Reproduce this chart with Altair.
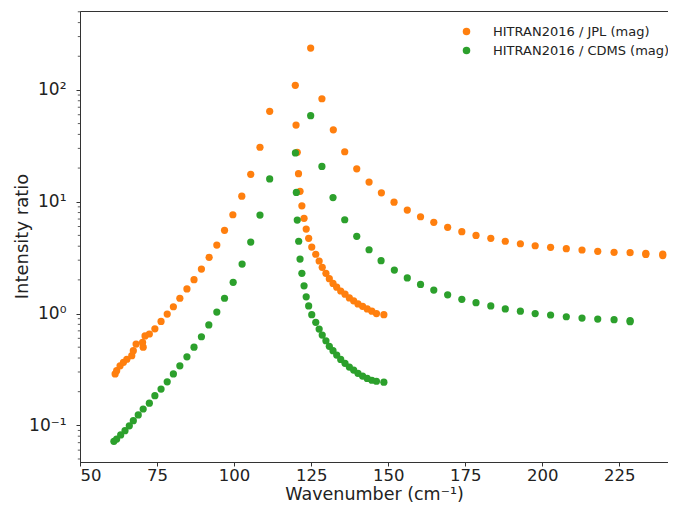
import math
import altair as alt
import pandas as pd

# ---- data ----
jpl_x = [61.4, 61.9, 63.0, 64.1, 65.2, 66.8, 67.3, 68.2, 70.5, 70.3, 71.1, 72.5, 74.3, 76.3,
         78.3, 80.3, 82.4, 84.7, 87.0, 89.4, 91.9, 94.4, 96.9, 99.6, 102.5, 105.4, 108.4, 111.55,
         119.86, 124.85,
         120.1, 120.5, 120.9, 121.4, 122.0, 122.7, 123.4, 124.2, 125.2, 126.5, 127.6, 128.6, 129.8,
         130.9, 132.1, 133.3, 134.6, 136.0, 137.4, 138.8, 140.2, 141.7, 143.2, 144.7, 146.2, 148.6,
         128.5, 132.2, 135.9, 139.8, 143.8, 147.8, 151.9, 156.2, 160.5, 164.8, 169.3, 173.9, 178.5,
         183.3, 188.0, 192.9, 197.7, 202.7, 207.8, 212.9, 218.0, 223.3, 228.5, 233.6, 239.1, 233.6, 239.1]
jpl_y = [0.288, 0.308, 0.341, 0.366, 0.39, 0.42, 0.465, 0.533, 0.50, 0.552, 0.63, 0.656, 0.73, 0.85,
         0.99, 1.15, 1.37, 1.66, 2.01, 2.50, 3.18, 4.10, 5.55, 7.65, 11.2, 17.6, 30.7, 64.4,
         110, 237,
         48.5, 27.7, 17.8, 12.4, 9.2, 7.1, 5.7, 4.71, 3.93, 3.39, 2.95, 2.59, 2.29,
         2.05, 1.86, 1.72, 1.59, 1.49, 1.38, 1.30, 1.22, 1.16, 1.10, 1.05, 1.00, 0.976,
         83.4, 44.0, 28.0, 19.7, 15.0, 12.0, 9.9, 8.43, 7.34, 6.54, 5.90, 5.40, 5.00,
         4.71, 4.43, 4.21, 4.04, 3.91, 3.80, 3.70, 3.60, 3.53, 3.50, 3.45, 3.40, 3.38, 3.30]

cdms_x = [61.0, 61.9, 63.2, 64.6, 66.0, 67.3, 68.9, 70.5, 72.5, 74.3, 76.3, 78.3, 80.3, 82.4,
          84.7, 87.0, 89.4, 91.8, 94.4, 96.9, 99.7, 102.6, 105.4, 108.4, 111.55,
          119.9, 124.85,
          120.2, 120.5, 120.96, 121.4, 122.0, 122.7, 123.4, 124.2, 125.2, 126.5, 127.6, 128.6, 129.8,
          130.9, 132.1, 133.3, 134.6, 136.0, 137.4, 138.8, 140.2, 141.7, 143.2, 144.7, 146.2, 148.6,
          128.5, 132.1, 135.9, 139.8, 143.8, 147.7, 152.0, 156.2, 160.5, 164.8, 169.3, 173.9, 178.5,
          183.3, 188.0, 192.9, 197.7, 202.7, 207.8, 212.9, 218.0, 223.3, 228.5, 228.5]
cdms_y = [0.072, 0.0754, 0.082, 0.0895, 0.099, 0.11, 0.124, 0.14, 0.158, 0.184, 0.211, 0.245, 0.288, 0.341,
          0.41, 0.50, 0.62, 0.79, 1.03, 1.37, 1.90, 2.77, 4.36, 7.6, 16.0,
          27.3, 58.8,
          12.1, 6.86, 4.43, 3.07, 2.29, 1.77, 1.41, 1.17, 0.976, 0.834, 0.726, 0.642, 0.571,
          0.509, 0.465, 0.425, 0.389, 0.359, 0.332, 0.312, 0.292, 0.276, 0.263, 0.253, 0.248, 0.243,
          20.7, 10.9, 6.9, 4.9, 3.72, 2.97, 2.45, 2.08, 1.82, 1.62, 1.47, 1.34, 1.25,
          1.17, 1.10, 1.05, 1.00, 0.97, 0.936, 0.911, 0.893, 0.881, 0.863, 0.845]

series_names = ["HITRAN2016 / JPL (mag)", "HITRAN2016 / CDMS (mag)"]
series_colors = ["#ff7f0e", "#2ca02c"]

x_ticks = [50, 75, 100, 125, 150, 175, 200, 225]
y_ticks = [0.1, 1, 10, 100]
y_tick_labels = ["10⁻¹", "10⁰", "10¹", "10²"]
x_domain = [50, 240.8]
y_domain = [0.047, 508]

minor_ticks = [m * 10.0 ** e for e in range(-2, 3) for m in range(2, 10)
               if y_domain[0] <= m * 10.0 ** e <= y_domain[1]]

# ---- table ----
rows = []
for name, xs, ys in [(series_names[0], jpl_x, jpl_y), (series_names[1], cdms_x, cdms_y)]:
    for xv, yv in zip(xs, ys):
        rows.append({"series": name, "wn": xv, "ratio": yv, "ord": len(rows)})
df = pd.DataFrame(rows)
minor_df = pd.DataFrame({"v": minor_ticks})

label_expr = " : ".join(
    f"round(log(datum.value)/LN10) == {round(math.log10(v))} ? '{lab}'"
    for v, lab in zip(y_ticks, y_tick_labels)) + " : ''"

FONT = "DejaVu Sans"
yscale = alt.Scale(type="log", domain=y_domain, nice=False)
xscale = alt.Scale(domain=x_domain, nice=False, zero=False)

points = alt.Chart(df).mark_circle(size=52, opacity=1).encode(
    x=alt.X("wn:Q", scale=xscale,
            axis=alt.Axis(values=x_ticks, title="Wavenumber (cm⁻¹)", grid=False,
                          tickSize=4, labelPadding=1, titlePadding=2, format="d",
                          labelFontSize=16.5, titleFontSize=17.5)),
    y=alt.Y("ratio:Q", scale=yscale,
            axis=alt.Axis(values=y_ticks, labelExpr=label_expr, title="Intensity ratio",
                          grid=False, tickSize=4, labelPadding=10,
                          titleX=-49, titleY=225, titleBaseline="bottom", titleAngle=270)),
    color=alt.Color("series:N", scale=alt.Scale(domain=series_names, range=series_colors),
                    legend=alt.Legend(title=None, orient="none", legendX=380, legendY=14,
                                      symbolType="circle", symbolSize=56, symbolStrokeWidth=0,
                                      labelFontSize=13, labelOffset=20, rowPadding=5,
                                      labelLimit=400, padding=0, labelFont=FONT,
                                      labelColor="#222")),
    order=alt.Order("ord:Q"),
)

minor = alt.Chart(minor_df).mark_rule(color="#333", strokeWidth=0.8).encode(
    y=alt.Y("v:Q", scale=yscale),
    x=alt.value(0),
    x2=alt.value(-2.2),
)

chart = alt.layer(minor, points).properties(
    width=588, height=451,
    autosize=alt.AutoSizeParams(type="none"),
    padding={"left": 72, "top": 3, "right": 0, "bottom": 43},
).configure_view(stroke="#333", strokeWidth=1).configure_axis(
    labelFont=FONT, titleFont=FONT, labelFontSize=17, titleFontSize=18,
    titleFontWeight="normal", labelColor="#222", titleColor="#222",
    domainColor="#333", tickColor="#333", domainWidth=1, tickWidth=1,
)

chart.save("out.html", embed_options={"renderer": "svg", "actions": False})
